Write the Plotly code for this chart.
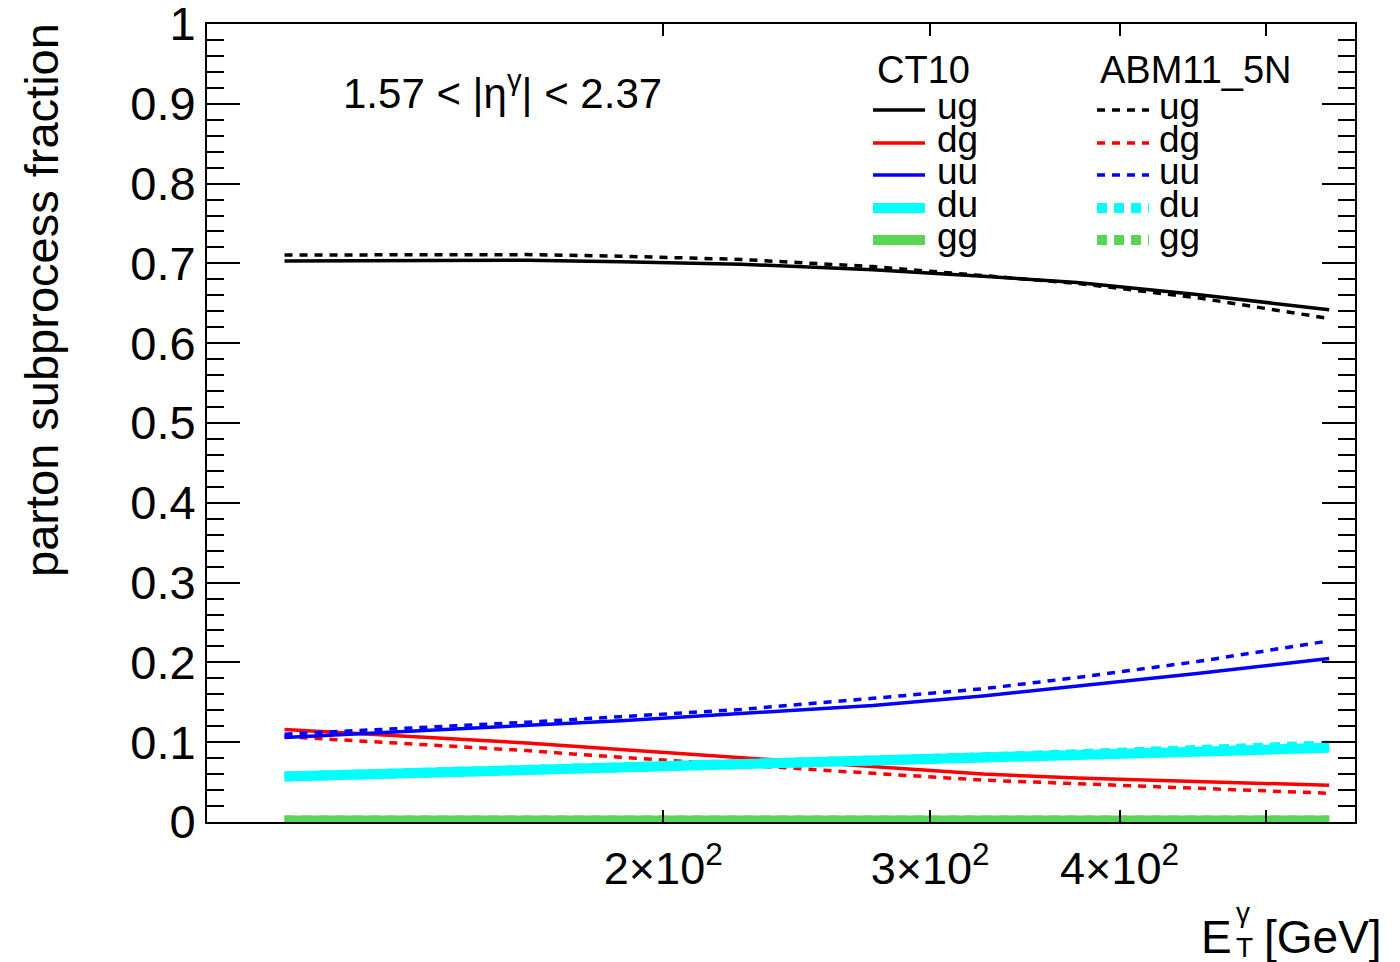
import plotly.graph_objects as go

# Photon transverse energy bin centres [GeV]
et = [112.5, 137.5, 162.5, 187.5, 225, 275, 325, 375, 450, 550]

# Subprocess fractions, CT10
ct10_ug = [0.703, 0.704, 0.704, 0.702, 0.699, 0.692, 0.684, 0.676, 0.661, 0.642]
ct10_dg = [0.116, 0.107, 0.099, 0.091, 0.081, 0.069, 0.060, 0.055, 0.051, 0.046]
ct10_uu = [0.106, 0.114, 0.121, 0.127, 0.136, 0.146, 0.158, 0.170, 0.186, 0.205]
ct10_du = [0.057, 0.061, 0.065, 0.068, 0.072, 0.077, 0.081, 0.084, 0.088, 0.093]
ct10_gg = [0.002, 0.002, 0.002, 0.002, 0.002, 0.002, 0.002, 0.002, 0.002, 0.002]

# Subprocess fractions, ABM11_5N
abm_ug = [0.7105, 0.711, 0.711, 0.709, 0.705, 0.696, 0.685, 0.675, 0.657, 0.631]
abm_dg = [0.107, 0.098, 0.0895, 0.081, 0.071, 0.061, 0.0525, 0.048, 0.042, 0.036]
abm_uu = [0.110, 0.118, 0.125, 0.132, 0.141, 0.155, 0.167, 0.181, 0.201, 0.227]
abm_du = [0.057, 0.061, 0.065, 0.068, 0.072, 0.077, 0.081, 0.085, 0.090, 0.096]
abm_gg = [0.002, 0.002, 0.002, 0.002, 0.002, 0.002, 0.002, 0.002, 0.002, 0.002]

processes = ["ug", "dg", "uu", "du", "gg"]
colors = {"ug": "#000000", "dg": "#ff0000", "uu": "#0000ff", "du": "#00ffff", "gg": "#59d454"}
widths = {"ug": 3.5, "dg": 3.5, "uu": 3.5, "du": 10, "gg": 10}
dashes = {"ug": "8px,7px", "dg": "8px,7px", "uu": "8px,7px", "du": "10px,7px", "gg": "10px,7px"}
ct10 = {"ug": ct10_ug, "dg": ct10_dg, "uu": ct10_uu, "du": ct10_du, "gg": ct10_gg}
abm = {"ug": abm_ug, "dg": abm_dg, "uu": abm_uu, "du": abm_du, "gg": abm_gg}

x_ticks = [200, 300, 400, 500]
x_tick_text = ["2×10<sup>2</sup>", "3×10<sup>2</sup>", "4×10<sup>2</sup>", ""]

FONT = "Liberation Sans, Arial, Helvetica, sans-serif"

W, H = 1400, 962
L, R, T, B = 207, 1355, 24, 822

fig = go.Figure()
for p in processes:
    fig.add_trace(go.Scatter(x=et, y=ct10[p], mode="lines", showlegend=False,
                             line=dict(color=colors[p], width=widths[p])))
    fig.add_trace(go.Scatter(x=et, y=abm[p], mode="lines", showlegend=False,
                             line=dict(color=colors[p], width=widths[p], dash=dashes[p])))


def px(xp):
    return (xp - L) / (R - L)


def py(yp):
    return (B - yp) / (B - T)


shapes = []
annotations = []


def label(x, y, text, size, xanchor="left", **kw):
    annotations.append(dict(x=px(x), y=py(y), xref="paper", yref="paper", text=text,
                            showarrow=False, xanchor=xanchor, yanchor="middle",
                            font=dict(size=size, color="black", family=FONT), **kw))


# Two-column legend: CT10 solid, ABM11_5N dashed
rows_y = [110, 143, 175, 208, 240]
label(875, 70, "CT10", 38)
label(1098, 70, "ABM11_5N", 38)
for p, ry in zip(processes, rows_y):
    shapes.append(dict(type="line", xref="paper", yref="paper",
                       x0=px(873), x1=px(925), y0=py(ry), y1=py(ry),
                       line=dict(color=colors[p], width=widths[p])))
    shapes.append(dict(type="line", xref="paper", yref="paper",
                       x0=px(1097), x1=px(1149), y0=py(ry), y1=py(ry),
                       line=dict(color=colors[p], width=widths[p], dash=dashes[p])))
    label(935, ry - 4, p, 37)
    label(1157, ry - 4, p, 37)

# Rapidity range label
label(341, 90, "1.57 < |η<sup>γ</sup>| < 2.37", 42)

# y-axis title
label(41, 300, "parton subprocess fraction", 47, xanchor="center", textangle=-90)

# x-axis title: E_T^gamma [GeV]
label(1234, 937, "E", 46, xanchor="right")
label(1234, 912, "γ", 28)
label(1234, 947, "T", 28)
label(1384, 937, "[GeV]", 46, xanchor="right")

fig.update_layout(
    width=W, height=H,
    margin=dict(l=L, r=W - R, t=T, b=H - B, pad=0),
    paper_bgcolor="white", plot_bgcolor="white",
    showlegend=False,
    shapes=shapes, annotations=annotations,
    font=dict(family=FONT, color="black"),
)
fig.update_xaxes(
    type="log", range=[2.0, 2.7574], automargin=False,
    showgrid=False, zeroline=False,
    showline=True, linecolor="black", linewidth=2, mirror="ticks",
    ticks="inside", ticklen=12, tickwidth=2, tickcolor="black",
    tickvals=x_ticks, ticktext=x_tick_text,
    tickfont=dict(size=45, family=FONT, color="black"),
    ticklabelstandoff=6,
)
fig.update_yaxes(
    range=[0, 1], dtick=0.1, tick0=0, automargin=False,
    showgrid=False, zeroline=False,
    showline=True, linecolor="black", linewidth=2, mirror="ticks",
    ticks="inside", ticklen=33, tickwidth=2, tickcolor="black",
    minor=dict(dtick=0.02, ticklen=17, tickwidth=2, tickcolor="black", ticks="inside"),
    tickfont=dict(size=47, family=FONT, color="black"),
    ticklabelstandoff=0, ticklabeloverflow="allow",
)

fig.write_html("out.html")
